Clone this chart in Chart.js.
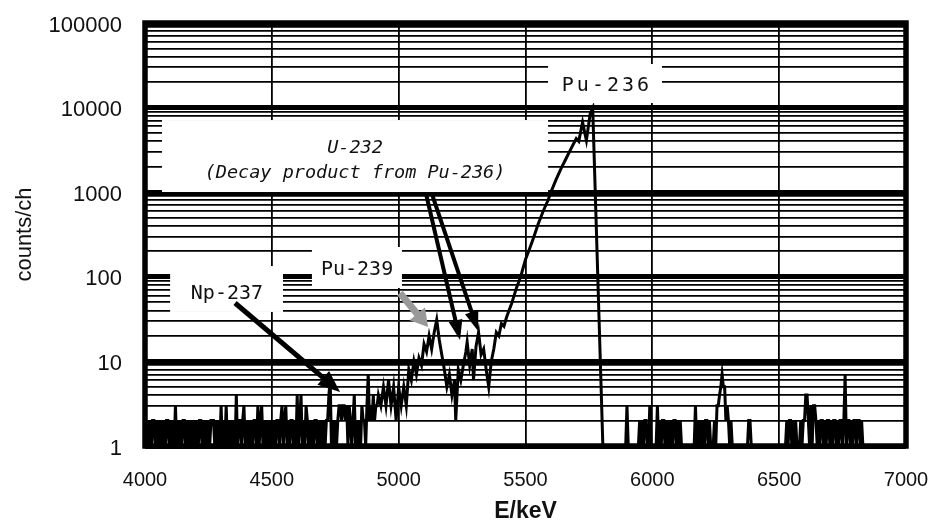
<!DOCTYPE html>
<html><head><meta charset="utf-8">
<script src="https://cdn.jsdelivr.net/npm/chart.js@4.4.1/dist/chart.umd.min.js"></script>
<style>html,body{margin:0;padding:0;background:#fff}</style>
</head><body>
<canvas id="c" width="938" height="525"></canvas>
<script>
// ---- data (energy in keV, counts per channel) ----
const energyLowKeV = [
4000,4005,4010,4015,4020,4025,4030,4035,4040,4045,4050,4055,4060,4065,4070,4075,4080,4085,4090,4095,
4100,4105,4110,4115,4120,4125,4130,4135,4140,4145,4150,4155,4160,4165,4170,4175,4180,4185,4190,4195,
4200,4205,4210,4215,4220,4225,4230,4235,4240,4245,4250,4255,4260,4265,4270,4275,4280,4285,4290,4295,
4300,4305,4310,4315,4320,4325,4330,4335,4340,4345,4350,4355,4360,4365,4370,4375,4380,4385,4390,4395,
4400,4405,4410,4415,4420,4425,4430,4435,4440,4445,4450,4455,4460,4465,4470,4475,4480,4485,4490,4495,
4500,4505,4510,4515,4520,4525,4530,4535,4540,4545,4550,4555,4560,4565,4570,4575,4580,4585,4590,4595,
4600,4605,4610,4615,4620,4625,4630,4635,4640,4645,4650,4655,4660,4665,4670,4675,4680,4685,4690,4695,
4700,4705,4710,4715,4720,4725,4730,4735,4740,4745,4750,4755,4760,4765,4770,4775,4780,4785,4790,4795,
4800,4805,4810,4815,4820,4825,4830,4835,4840,4845,4850,4855,4860,4865,4870,4875,4880,4885,4890,4895,
4900,4905,4910,4915];
const countsLow = [
2,1,2,1,2,1,2,2,1,2,1,2,1,2,1,2,1,2,2,1,
2,1,2,1,3,1,2,1,2,1,2,2,1,2,1,2,1,2,1,2,
1,2,1,2,2,1,2,1,2,1,2,1,2,2,2,1,2,1,2,1,
3,1,2,1,3,1,2,1,2,1,2,1,4,1,2,2,1,2,3,1,
2,1,2,1,2,1,2,2,1,3,1,2,3,1,2,1,2,1,2,1,
2,1,2,1,2,2,1,2,3,1,2,3,1,2,1,2,2,1,2,1,
4,1,2,4,1,2,1,3,2,1,2,1,2,1,2,2,1,2,1,2,
1,2,1,2,2,4,6,1,2,1,2,1,2,3,3,2,3,3,2,3,
1,3,2,1,2,4,1,2,1,2,1,3,2,2,1,3,7,2,3,2,
4,2,3,3];
const energyMidKeV = [4920,4930,4940,4950,4960,4970,4980,4990,5000,5010,5020,5030,5040,5050,5060,5070,5080,5090,5100,5110,5120,5130,5140,5150,5160,5170,5180,5190,5200,5210,5220,5225,5235,5245,5255,5265,5270,5280,5290,5295,5305,5315,5325,5335,5345,5355,5365,5375,5385,5395,5405,5415,5425,5435,5445,5455,5465,5475,5485];
const countsMid = [4,3,5,3,6,3,5,2,5,3, 5,3,8,6,10,7,11,9,16,13, 20,14,22,31,18,12,8,5,7,4, 6,2,8,6,9,13,17,9,14,6, 15,22,12,14,8,5,10,14,22,20, 28,26,33,40,48,60,75,90,111];
const energyPeakKeV = [5500,5515,5530,5550,5570,5590,5600,5620,5640,5660,5680,5700,5710,5725,5740,5755,5765,5805];
const countsPeak = [160,210,280,420,600,820,1000,1400,1900,2500,3300,4300,4000,6700,4100,8500,9900,1];
const energyHighKeV = [
5810,5815,5820,5825,5830,5835,5840,5845,5850,5855,5860,5865,5870,5875,5880,5885,5890,5895,
5900,5905,5910,5915,5920,5925,5930,5935,5940,5945,5950,5955,5960,5965,5970,5975,5980,5985,5990,5995,
6000,6005,6010,6015,6020,6025,6030,6035,6040,6045,6050,6055,6060,6065,6070,6075,6080,6085,6090,6095,
6100,6105,6110,6115,6120,6125,6130,6135,6140,6145,6150,6155,6160,6165,6170,6175,6180,6185,6190,6195,
6200,6205,6210,6215,6220,6225,6230,6235,6240,6245,6250,6255,6260,6265,6270,6275,6280,6285,6290,6295,
6300,6305,6310,6315,6320,6325,6330,6335,6340,6345,6350,6355,6360,6365,6370,6375,6380,6385,6390,6395,
6400,6405,6410,6415,6420,6425,6430,6435,6440,6445,6450,6455,6460,6465,6470,6475,6480,6485,6490,6495,
6500,6505,6510,6515,6520,6525,6530,6535,6540,6545,6550,6555,6560,6565,6570,6575,6580,6585,6590,6595,
6600,6605,6610,6615,6620,6625,6630,6635,6640,6645,6650,6655,6660,6665,6670,6675,6680,6685,6690,6695,
6700,6705,6710,6715,6720,6725,6730,6735,6740,6745,6750,6755,6760,6765,6770,6775,6780,6785,6790,6795,
6800,6805,6810,6815,6820,6825,6830];
const countsHigh = [
1,1,1,1,1,1,1,1,1,1,1,1,1,1,1,1,1,1,
3,1,1,1,1,1,1,1,1,1,2,1,2,1,2,2,1,1,3,1,
1,1,1,1,3,1,2,1,2,2,1,2,1,2,1,2,1,2,2,1,
2,1,2,1,1,1,1,1,1,1,1,1,1,1,3,1,2,1,2,1,
2,1,2,2,1,2,1,1,1,2,1,3,3,4,5,7,5,5,2,3,
2,1,2,1,1,1,1,1,1,1,1,1,1,1,1,1,2,2,1,1,
1,1,1,1,1,1,1,1,1,1,1,1,1,1,1,1,1,1,1,1,
1,1,1,1,1,1,2,1,2,2,1,2,1,2,1,1,1,2,1,2,
2,4,4,2,1,3,1,3,3,2,1,2,1,2,2,1,2,1,2,2,
1,2,1,2,2,1,2,1,2,2,1,2,7,1,2,2,1,2,1,2,
2,1,2,2,1,2,1];

const xTickValues = [4000,4500,5000,5500,6000,6500,7000];
const yTickLabels = [1,10,100,1000,10000,100000];

// ---- annotations (in data units: keV, counts) ----
const noteBoxes = [
  {e0:5589, e1:6038, c0:11330, c1:32750},
  {e0:4067, e1:5589, c0:1005,  c1:7130},
  {e0:4658, e1:5013, c0:73.8,  c1:225},
  {e0:4099, e1:4544, c0:38.4,  c1:134}
];
const noteTexts = [
  {text:'Pu-236', e:5821, c:17990, font:'20px "DejaVu Sans Mono"', spacing:'3px'},
  {text:'U-232', e:4828, c:3330, font:'italic 18.5px "DejaVu Sans Mono"', spacing:'0px'},
  {text:'(Decay product from Pu-236)', e:4828, c:1687, font:'italic 18.5px "DejaVu Sans Mono"', spacing:'0px'},
  {text:'Pu-239', e:4836, c:120, font:'20px "DejaVu Sans Mono"', spacing:'0px'},
  {text:'Np-237', e:4323, c:62.6, font:'20px "DejaVu Sans Mono"', spacing:'0px'}
];
const noteArrows = [
  {e0:4355, c0:49,   e1:4769, c1:4.35, color:'#000', width:5, headLen:22, headW:18},
  {e0:5005, c0:64.4, e1:5116, c1:25.5, color:'#999', width:7, headLen:17, headW:20},
  {e0:5108, c0:953,  e1:5242, c1:17.9, color:'#000', width:4, headLen:20, headW:14},
  {e0:5131, c0:953,  e1:5313, c1:22.9, color:'#000', width:4, headLen:20, headW:14}
];

const energies = energyLowKeV.concat(energyMidKeV, energyPeakKeV, energyHighKeV);
const counts = countsLow.concat(countsMid, countsPeak, countsHigh);

function isDecade(v){ const l = Math.log10(v); return Math.abs(l - Math.round(l)) < 1e-9; }

function drawArrow(ctx, x0, y0, x1, y1, w, headLen, headW, color){
  const ang = Math.atan2(y1 - y0, x1 - x0);
  const c = Math.cos(ang), s = Math.sin(ang);
  const bx = x1 - headLen * c, by = y1 - headLen * s;
  ctx.strokeStyle = color; ctx.lineWidth = w; ctx.lineCap = 'butt';
  ctx.beginPath(); ctx.moveTo(x0, y0); ctx.lineTo(bx + 2 * c, by + 2 * s); ctx.stroke();
  ctx.fillStyle = color;
  ctx.beginPath(); ctx.moveTo(x1, y1);
  ctx.lineTo(bx + headW / 2 * s, by - headW / 2 * c);
  ctx.lineTo(bx - headW / 2 * s, by + headW / 2 * c);
  ctx.closePath(); ctx.fill();
}

const overlay = {
  id: 'overlay',
  afterDatasetsDraw(chart){
    const {ctx, chartArea: a, scales: {x, y}} = chart;
    const px = v => x.getPixelForValue(v), py = v => y.getPixelForValue(v);
    ctx.save();
    ctx.fillStyle = '#fff';
    for (const b of noteBoxes){
      const x0 = px(b.e0), x1 = px(b.e1), y0 = py(b.c1), y1 = py(b.c0);
      ctx.fillRect(x0, y0, x1 - x0, y1 - y0);
    }
    for (const ar of noteArrows){
      drawArrow(ctx, px(ar.e0), py(ar.c0), px(ar.e1), py(ar.c1), ar.width, ar.headLen, ar.headW, ar.color);
    }
    ctx.fillStyle = '#111'; ctx.textAlign = 'center'; ctx.textBaseline = 'middle';
    for (const t of noteTexts){
      ctx.font = t.font;
      if ('letterSpacing' in ctx) ctx.letterSpacing = t.spacing;
      ctx.fillText(t.text, px(t.e), py(t.c));
    }
    if ('letterSpacing' in ctx) ctx.letterSpacing = '0px';
    ctx.strokeStyle = '#000'; ctx.lineWidth = 5.5;
    ctx.strokeRect(a.left, a.top, a.right - a.left, a.bottom - a.top);
    ctx.restore();
  }
};

new Chart(document.getElementById('c'), {
  type: 'line',
  data: {
    labels: energies,
    datasets: [{
      data: counts,
      borderColor: '#000',
      borderWidth: 3,
      pointRadius: 0,
      tension: 0,
      fill: false
    }]
  },
  options: {
    responsive: false,
    animation: false,
    layout: {padding: {top: 23, right: 32, bottom: 0, left: 0}},
    plugins: {legend: {display: false}, tooltip: {enabled: false}},
    scales: {
      x: {
        type: 'linear', min: 4000, max: 7000,
        afterBuildTicks: s => { s.ticks = xTickValues.map(v => ({value: v})); },
        afterFit: s => { s.height = 79; s.paddingLeft = 0; s.paddingRight = 0; },
        grid: {color: '#000', lineWidth: 1.8, drawTicks: false},
        border: {display: false},
        ticks: {
          autoSkip: false, maxRotation: 0, padding: 22,
          color: '#111',
          font: {family: '"Liberation Sans", Arial, sans-serif', size: 20},
          callback: v => String(v)
        },
        title: {
          display: true, text: 'E/keV', color: '#111',
          font: {family: '"Liberation Sans", Arial, sans-serif', size: 23, weight: 'bold', lineHeight: 1},
          padding: {top: 0, bottom: 2}
        }
      },
      y: {
        type: 'logarithmic', min: 1, max: 100000,
        afterBuildTicks: s => {
          s.ticks = s.ticks.filter(t => {
            const m = t.value / Math.pow(10, Math.floor(Math.log10(t.value) + 1e-9));
            return Math.abs(m - Math.round(m)) < 1e-6;
          });
        },
        afterFit: s => { s.width = 145; s.paddingTop = 0; s.paddingBottom = 0; },
        grid: {
          color: '#000', drawTicks: false,
          lineWidth: c => (c.tick && isDecade(c.tick.value)) ? 5 : 1.8
        },
        border: {display: false},
        ticks: {
          autoSkip: false, padding: 23, labelOffset: 2.5,
          color: '#111',
          font: {family: '"Liberation Sans", Arial, sans-serif', size: 22},
          callback: v => yTickLabels.includes(v) ? String(v) : ''
        },
        title: {
          display: true, text: 'counts/ch', color: '#111',
          font: {family: '"Liberation Sans", Arial, sans-serif', size: 22, lineHeight: 1},
          padding: {top: 14, bottom: 0}
        }
      }
    }
  },
  plugins: [overlay]
});
</script>
</body></html>
